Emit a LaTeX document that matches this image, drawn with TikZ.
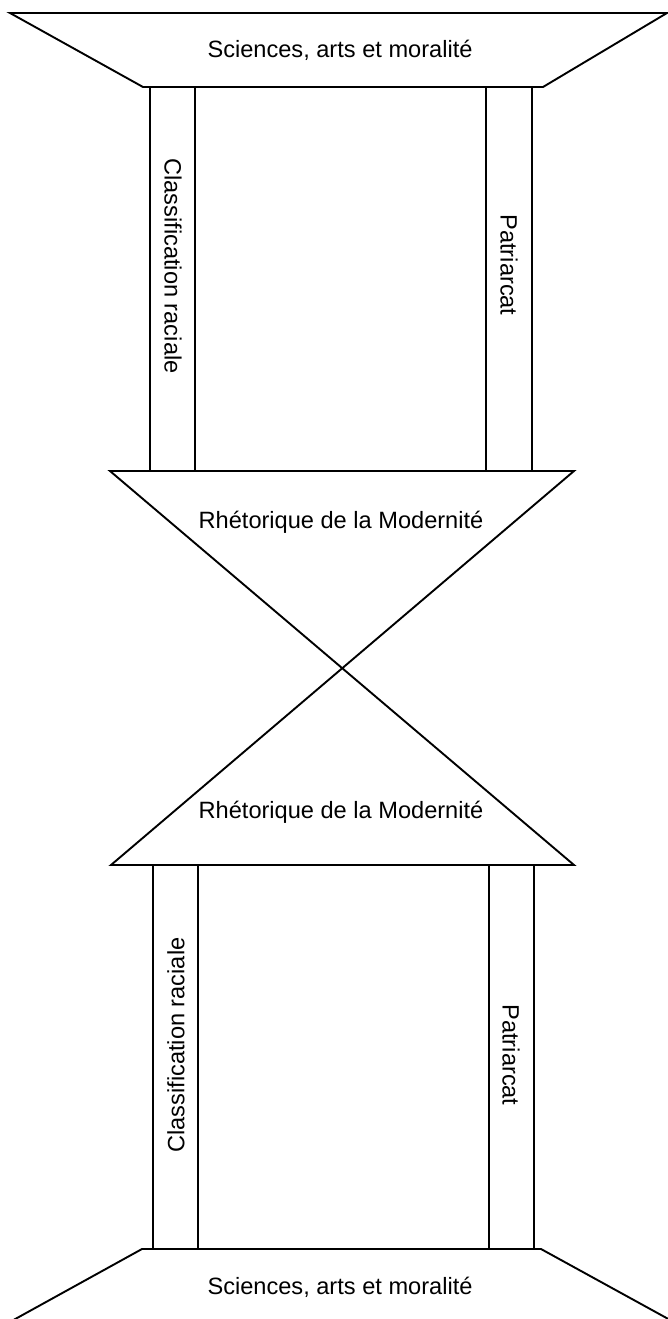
\documentclass[tikz,border=0pt]{standalone}
\usepackage{fontspec}
\setmainfont{Liberation Sans}
\begin{document}
\begin{tikzpicture}[x=1pt,y=-1pt,
  shape line/.style={line width=1.9pt,line join=miter},
  label/.style={font=\fontsize{23.6}{28}\selectfont,inner sep=0pt}]
\useasboundingbox (0,0) rectangle (668,1319);
% top trapezoid
\draw[shape line] (10,13) -- (667,13) -- (543,87) -- (143,87) -- cycle;
% top columns
\draw[shape line] (150,87) rectangle (195,471);
\draw[shape line] (486,87) rectangle (532,471);
% hourglass
\draw[shape line] (110,471) -- (574,471) -- (111,865) -- (574,865) -- cycle;
% bottom columns
\draw[shape line] (153,865) rectangle (198,1249);
\draw[shape line] (489,865) rectangle (534,1249);
% bottom trapezoid
\draw[shape line] (8,1323) -- (142,1249) -- (541,1249) -- (672,1321);
% labels
\node[label] (sciTop) at (340,50) {Sciences, arts et moralité};
\node[label,rotate=-90] (clsTop) at (173,266) {Classification raciale};
\node[label,rotate=-90] (patTop) at (509,265) {Patriarcat};
\node[label] (rheTop) at (341,522) {Rhétorique de la Modernité};
\node[label] (rheBot) at (341,812) {Rhétorique de la Modernité};
\node[label,rotate=90] (clsBot) at (176,1045) {Classification raciale};
\node[label,rotate=-90] (patBot) at (511,1055) {Patriarcat};
\node[label] (sciBot) at (340,1287) {Sciences, arts et moralité};
\end{tikzpicture}
\end{document}
